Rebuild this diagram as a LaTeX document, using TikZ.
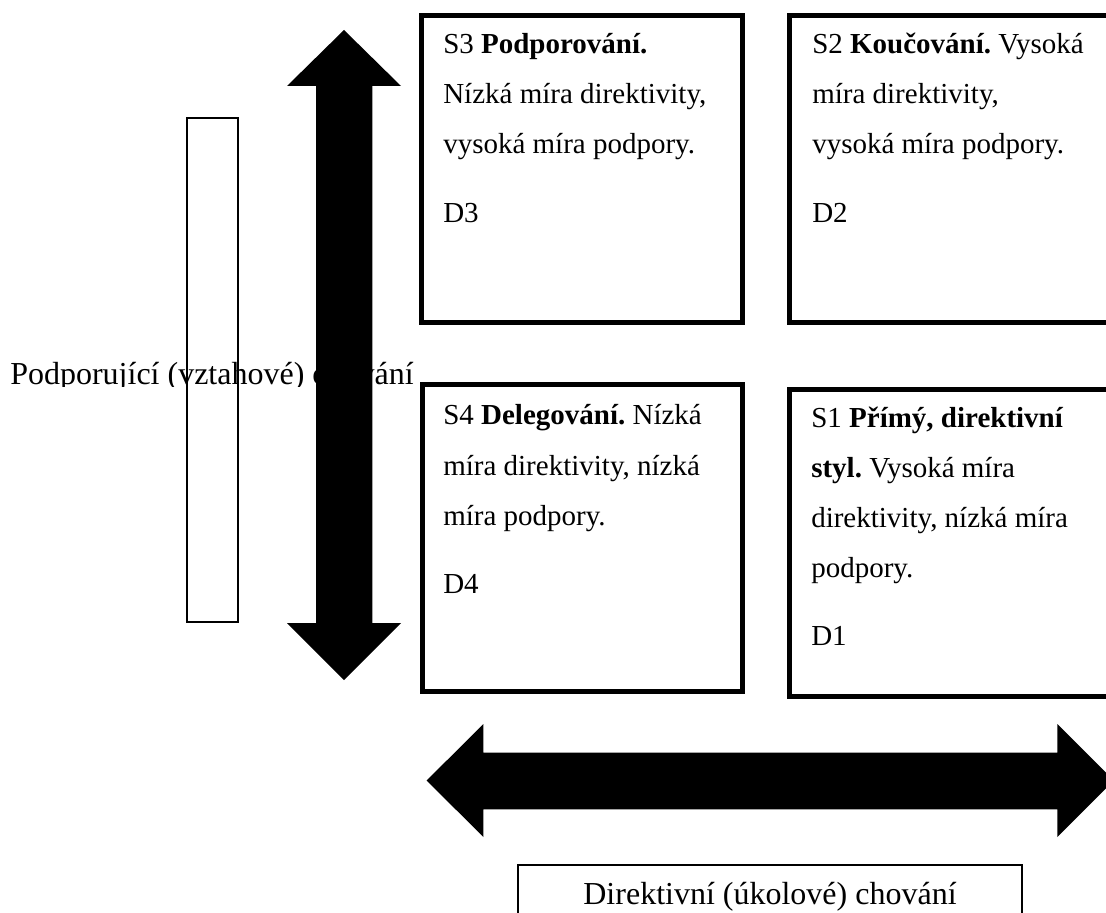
\documentclass[tikz,border=0pt]{standalone}
\usepackage{fontspec}
\setmainfont{Liberation Serif}
\frenchspacing
\begin{document}
\begin{tikzpicture}[x=0.75pt,y=-0.75pt,
  thickbox/.style={draw=black,line width=3.75pt,fill=white},
  thinbox/.style={draw=black,line width=1.5pt},
  blockarrow/.style={fill=black,draw=none},
  boxtext/.style={anchor=base west,inner sep=0pt,font=\fontsize{21.75}{26}\selectfont},
  labeltext/.style={inner sep=0pt,font=\fontsize{24}{28}\selectfont}]
\clip (0,0) rectangle (1106,913);
\fill[white] (0,0) rectangle (1106,913);
% left label, descenders clipped
\begin{scope}
\clip (0,0) rectangle (430,386);
\node[labeltext,anchor=base west] (lbly) at (10,384.3) {Podporující (vztahové) chování};
\end{scope}
% thin box over the label
\draw[thinbox] (187,118) rectangle (238,622);
% vertical double arrow
\fill[blockarrow] (344,30) -- (401,86) -- (372.3,86) -- (372.3,623) -- (401,623) -- (344,680)
  -- (287,623) -- (316,623) -- (316,86) -- (287,86) -- cycle;
% boxes
\draw[thickbox] (421.5,15.5) rectangle (742.5,322.5);
\draw[thickbox] (789.5,15.5) rectangle (1130,322.5);
\draw[thickbox] (422.5,384.5) rectangle (742.5,691.5);
\draw[thickbox] (789.5,389.5) rectangle (1130,696.5);
% S3
\node[boxtext] (s3a) at (443,54) {S3 \textbf{Podporování.}};
\node[boxtext] (s3b) at (443,104) {Nízká míra direktivity,};
\node[boxtext] (s3c) at (443,154) {vysoká míra podpory.};
\node[boxtext] (s3d) at (443,222) {D3};
% S2
\node[boxtext] (s2a) at (812,54) {S2 \textbf{Koučování.} Vysoká};
\node[boxtext] (s2b) at (812,104) {míra direktivity,};
\node[boxtext] (s2c) at (812,154) {vysoká míra podpory.};
\node[boxtext] (s2d) at (812,222) {D2};
% S4
\node[boxtext] (s4a) at (443,424) {S4 \textbf{Delegování.} Nízká};
\node[boxtext] (s4b) at (443,475) {míra direktivity, nízká};
\node[boxtext] (s4c) at (443,525) {míra podpory.};
\node[boxtext] (s4d) at (443,593) {D4};
% S1
\node[boxtext] (s1a) at (811,427) {S1 \textbf{Přímý, direktivní}};
\node[boxtext] (s1b) at (811,477) {\textbf{styl.} Vysoká míra};
\node[boxtext] (s1c) at (811,527) {direktivity, nízká míra};
\node[boxtext] (s1d) at (811,577) {podpory.};
\node[boxtext] (s1e) at (811,645) {D1};
% horizontal double arrow
\fill[blockarrow] (426.7,780.5) -- (483.3,724) -- (483.3,752.7) -- (1057.3,752.7) -- (1057.3,724)
  -- (1114,780.5) -- (1057.3,837) -- (1057.3,809.3) -- (483.3,809.3) -- (483.3,837) -- cycle;
% bottom label box
\draw[thinbox] (517.7,950) -- (517.7,865.3) -- (1022,865.3) -- (1022,950);
\node[labeltext,anchor=base] (lblx) at (770,904) {Direktivní (úkolové) chování};
\end{tikzpicture}
\end{document}
